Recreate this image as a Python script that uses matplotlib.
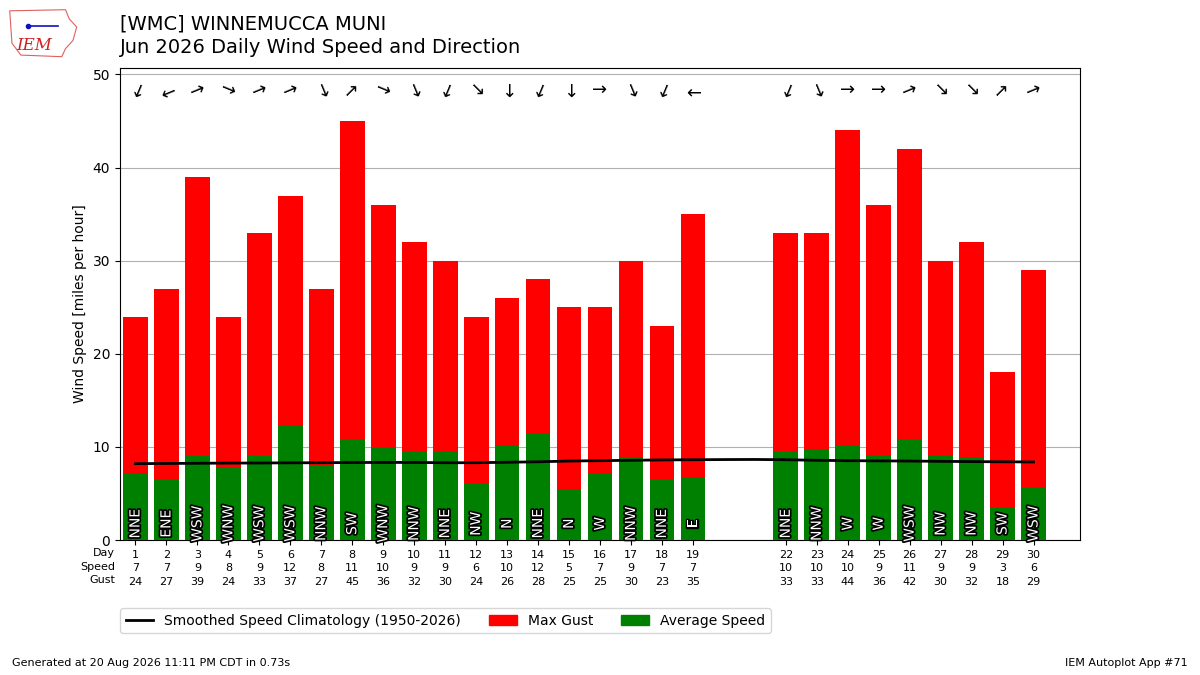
import matplotlib
matplotlib.use("Agg")
import matplotlib.pyplot as plt
import matplotlib.patheffects as PathEffects
from matplotlib.patches import Patch, Polygon
from matplotlib.lines import Line2D

# ---------------- data ----------------
days = [1, 2, 3, 4, 5, 6, 7, 8, 9, 10, 11, 12, 13, 14, 15, 16, 17, 18, 19,
        22, 23, 24, 25, 26, 27, 28, 29, 30]
avg_speed = [7.16, 6.58, 8.99, 7.8, 9.0, 12.4, 8.0, 10.7, 10.0, 9.4, 9.4, 5.97,
             10.25, 11.5, 5.43, 7.23, 8.92, 6.58, 6.8,
             9.6, 9.82, 10.18, 9.17, 10.8, 9.1, 8.85, 3.49, 5.72]
speed_label = [7, 7, 9, 8, 9, 12, 8, 11, 10, 9, 9, 6, 10, 12, 5, 7, 9, 7, 7,
               10, 10, 10, 9, 11, 9, 9, 3, 6]
max_gust = [24, 27, 39, 24, 33, 37, 27, 45, 36, 32, 30, 24, 26, 28, 25, 25, 30, 23, 35,
            33, 33, 44, 36, 42, 30, 32, 18, 29]
direction = ["NNE", "ENE", "WSW", "WNW", "WSW", "WSW", "NNW", "SW", "WNW", "NNW",
             "NNE", "NW", "N", "NNE", "N", "W", "NNW", "NNE", "E",
             "NNE", "NNW", "W", "W", "WSW", "NW", "NW", "SW", "WSW"]
clim_days = list(range(1, 31))
clim_speed = [8.20, 8.22, 8.24, 8.26, 8.27, 8.29, 8.30, 8.32, 8.33, 8.33,
              8.30, 8.30, 8.35, 8.40, 8.48, 8.52, 8.56, 8.60, 8.62, 8.64,
              8.65, 8.62, 8.56, 8.52, 8.50, 8.48, 8.45, 8.42, 8.40, 8.38]

compass = ["N", "NNE", "NE", "ENE", "E", "ESE", "SE", "SSE",
           "S", "SSW", "SW", "WSW", "W", "WNW", "NW", "NNW"]
deg_of = {c: i * 22.5 for i, c in enumerate(compass)}

# ---------------- figure ----------------
fig = plt.figure(figsize=(12, 6.75), dpi=100)
ax = fig.add_axes([0.1, 0.2, 0.8, 0.7])

ax.bar(days, max_gust, width=0.8, color="red", zorder=2)
ax.bar(days, avg_speed, width=0.8, color="green", zorder=3)
ax.plot(clim_days, clim_speed, color="k", lw=2, zorder=4)

for d, lab in zip(days, direction):
    t = ax.text(d, 1.75, lab, rotation=90, ha="center", va="center",
                color="white", fontsize=10, zorder=5)
    t.set_path_effects([PathEffects.withStroke(linewidth=2.5, foreground="k")])
    rot = -90 - deg_of[lab]
    ax.text(d, 48.3, "\u2192", rotation=rot, rotation_mode="anchor",
            ha="center", va="center", fontsize=13, zorder=5)

ax.set_xlim(0.5, 31.5)
ax.set_ylim(0, 50.75)
ax.set_yticks([0, 10, 20, 30, 40, 50])
ax.grid(True, axis="y", color="#b0b0b0", zorder=0)
ax.set_axisbelow(True)
ax.set_xticks(days)
ax.set_xticklabels([f"{d}\n{s}\n{g}" for d, s, g in zip(days, speed_label, max_gust)],
                   fontsize=8, linespacing=1.45)
ax.text(-0.005, -0.017, "Day\nSpeed\nGust", transform=ax.transAxes, ha="right",
        va="top", fontsize=8, linespacing=1.45)
ax.set_ylabel("Wind Speed [miles per hour]")

handles = [Line2D([0], [0], color="k", lw=2),
           Patch(color="red"), Patch(color="green")]
ax.legend(handles, ["Smoothed Speed Climatology (1950-2026)", "Max Gust", "Average Speed"],
          ncol=3, loc="upper left", bbox_to_anchor=(0, -0.144), borderaxespad=0,
          fontsize=10)

fig.text(0.1, 0.978, "[WMC] WINNEMUCCA MUNI\nJun 2026 Daily Wind Speed and Direction",
         ha="left", va="top", fontsize=14, linespacing=1.3)
fig.text(0.01, 0.01, "Generated at 20 Aug 2026 11:11 PM CDT in 0.73s", fontsize=8,
         ha="left", va="bottom")
fig.text(0.99, 0.01, "IEM Autoplot App #71", fontsize=8, ha="right", va="bottom")

# simple logo stand-in
logo = fig.add_axes([0.005, 0.912, 0.062, 0.08])
logo.axis("off")
logo.set_xlim(0, 1)
logo.set_ylim(0, 1)
logo.add_patch(Polygon([[0.05, 0.9], [0.8, 0.92], [0.85, 0.75], [0.95, 0.6], [0.9, 0.35],
                        [0.8, 0.2], [0.75, 0.05], [0.2, 0.08], [0.08, 0.3], [0.05, 0.9]],
                       closed=True, fill=False, edgecolor="#e06060", lw=0.8))
logo.text(0.38, 0.25, "IEM", color="#d02020", fontsize=12, family="DejaVu Serif",
          style="italic", ha="center", va="center")
logo.plot([0.3, 0.7], [0.62, 0.62], color="#1010c0", lw=1.2)
logo.plot([0.3], [0.62], "o", color="#1010c0", ms=3)

fig.savefig("out.png", dpi=100)
